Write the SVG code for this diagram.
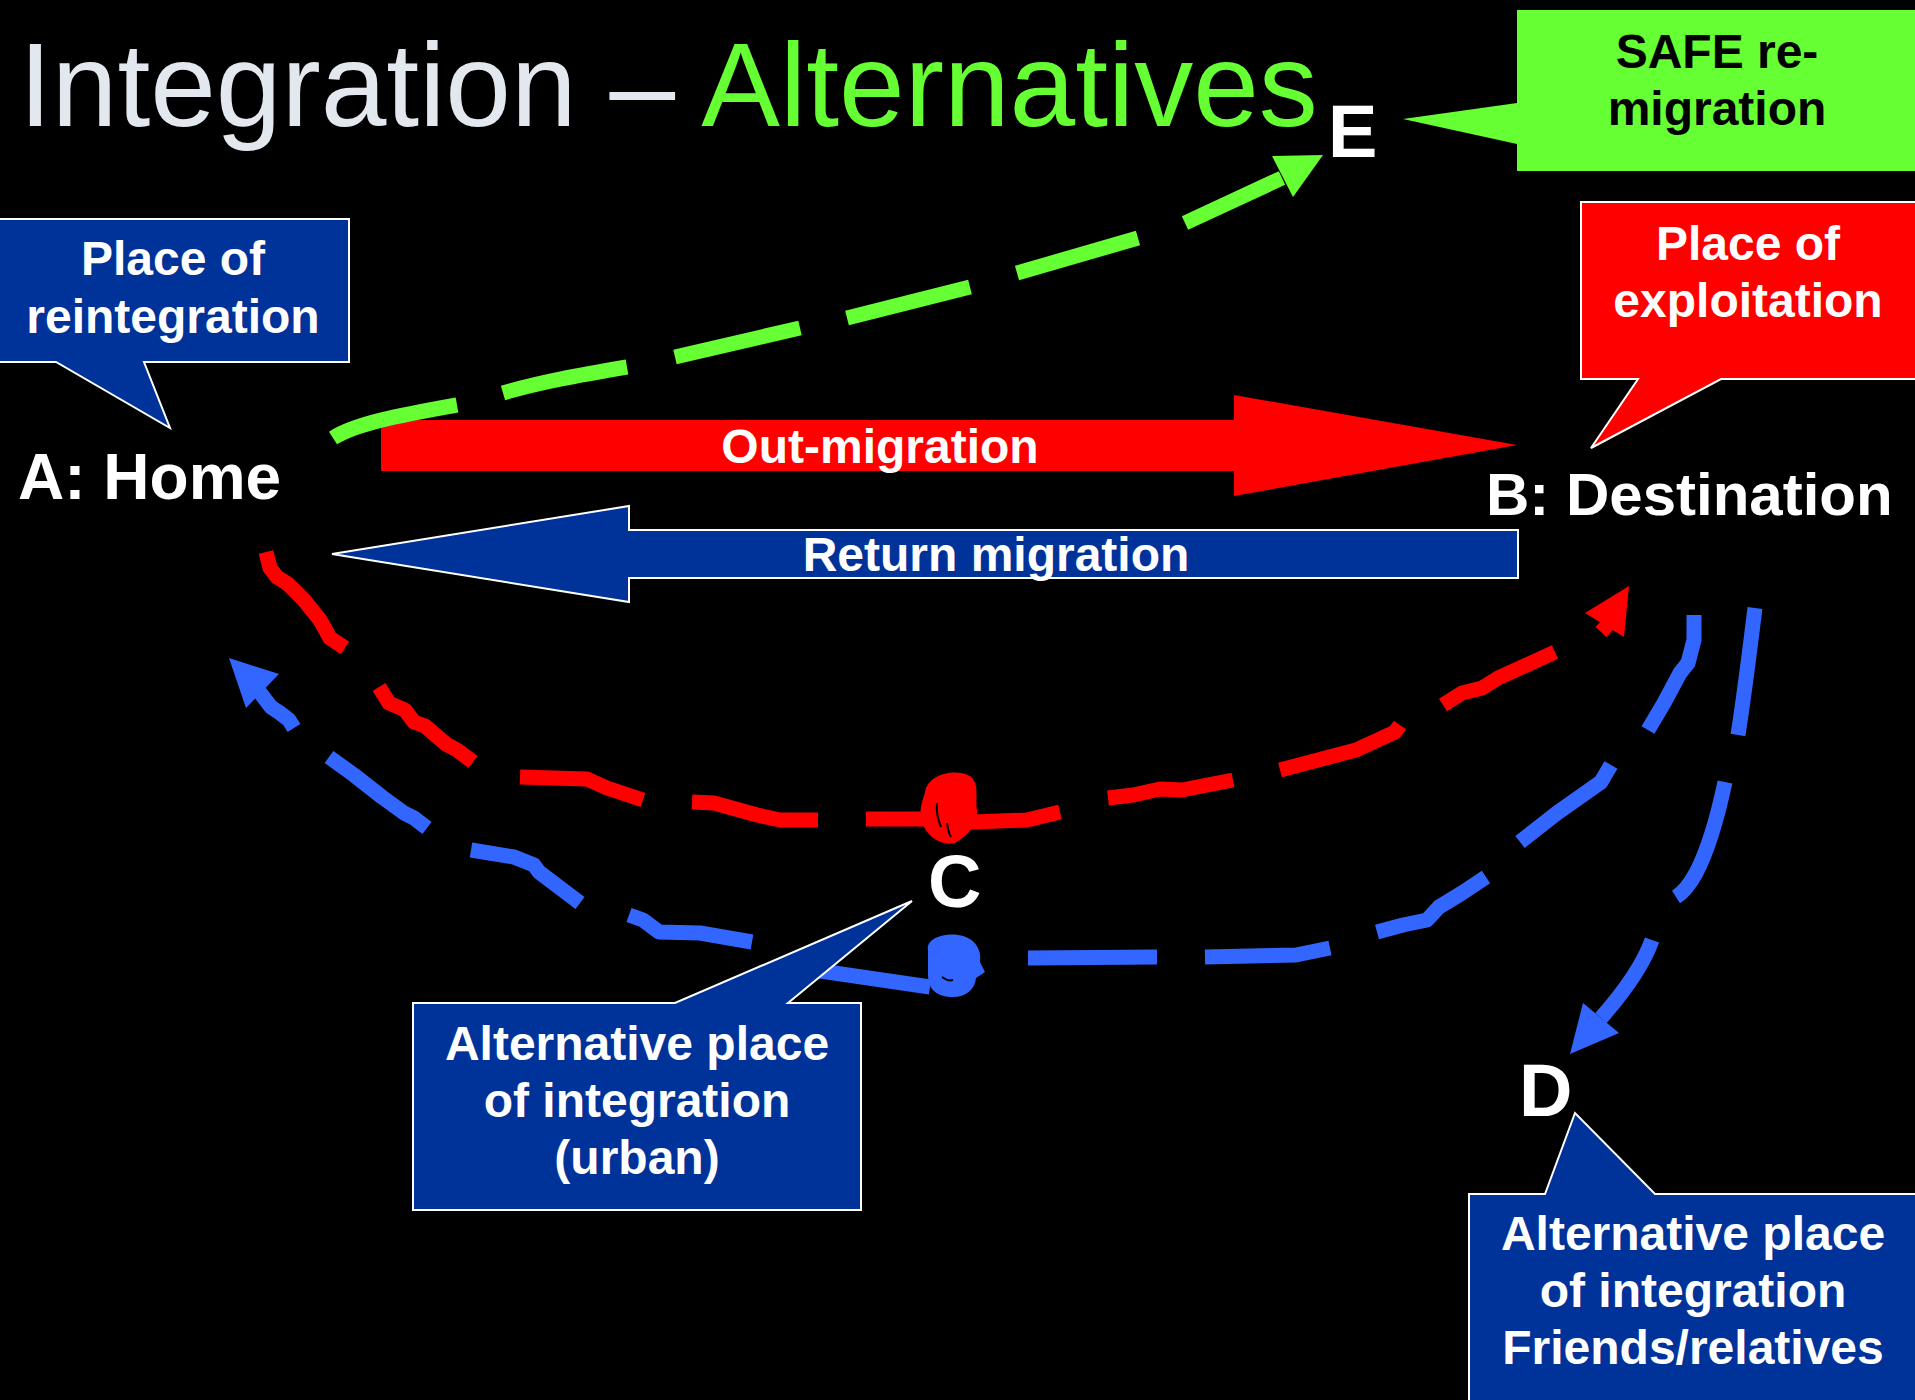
<svg xmlns="http://www.w3.org/2000/svg" width="1915" height="1400" viewBox="0 0 1915 1400">
<defs>
<style>
.bg{fill:#000}
.title{font-family:"Liberation Sans",Arial,sans-serif;font-size:118px;fill:#E3E8EE}
.lbl{font-family:"Liberation Sans",Arial,sans-serif;font-weight:bold;font-size:48px;fill:#fff;text-anchor:middle}
.dark{fill:#000}
.big{font-family:"Liberation Sans",Arial,sans-serif;font-weight:bold;font-size:64px;fill:#fff}
.bigB{font-size:60px}
.letter{font-family:"Liberation Sans",Arial,sans-serif;font-weight:bold;font-size:74px;fill:#fff}
.blueBox{fill:#003399;stroke:#fff;stroke-width:2}
.redBox{fill:#FF0000;stroke:#fff;stroke-width:2}
.greenBox{fill:#66FF33}
.dash{fill:none;stroke-width:15;stroke-linejoin:round;stroke-linecap:butt}
.g{stroke:#66FF33}
.r{stroke:#FF0000}
.b{stroke:#3366FF}
.tex{fill:none;stroke:#000;stroke-width:2}
</style>
</defs>
<rect class="bg" x="0" y="0" width="1915" height="1400"/>

<text class="title" x="19" y="126">Integration – <tspan fill="#66FF33">Alternatives</tspan></text>

<g id="connectors">
  <g id="out-migration">
    <polygon points="381,420 1234,420 1234,395 1517,445 1234,496 1234,471 381,471" fill="#FF0000"/>
    <text class="lbl" x="880" y="463">Out-migration</text>
  </g>
  <g id="return-migration">
    <polygon class="blueBox" points="1518,530 629,530 629,506 332,554 629,602 629,578 1518,578"/>
    <text class="lbl" x="996" y="571">Return migration</text>
  </g>
  <g id="a-to-e">
    <path class="dash g" d="M333,438 C355,424 395,416 457,405 M503,393 C540,382 580,375 627,367 M675,357 L800,328 M847,318 L970,287 M1017,273 L1138,238 M1185,223 L1282,178"/>
    <polygon points="1272,156 1323,155 1293,197" fill="#66FF33"/>
  </g>
  <g id="a-to-c-to-b">
    <path class="dash r" d="M266,552 L270,568 L277,577 L288,584 L304,600 L320,620 L330,638 L345,648 M379,687 L389,703 L405,710 L414,722 L425,726 L446,744 L457,750 L473,762 M520,777 L587,779 L607,788 L643,800 M692,802 L714,803 L757,815 L780,820 L818,820 M866,819 L930,819 M960,820 L973,822 L1027,820 L1060,812 M1108,798 L1133,795 L1160,789 L1182,790 L1233,780 M1280,770 L1356,750 L1395,732 L1400,725 M1443,705 L1462,693 L1482,688 L1498,678 L1555,652 M1601,632 L1614,618"/>
    <path d="M925,792 C928,774 955,768 970,776 C980,784 975,798 977,810 C979,826 966,836 955,843 C940,846 925,836 921,818 C919,808 923,800 925,792 Z" fill="#FF0000"/>
    <path class="tex" d="M937,803 C936,812 938,820 941,827 M947,823 C948,830 949,834 951,837"/>
    <polygon points="1585,613 1629,586 1624,637" fill="#FF0000"/>
  </g>
  <g id="b-to-c-to-a">
    <path class="dash b" d="M1694,615 L1694,640 L1688,663 L1680,673 L1664,703 L1648,730 M1611,765 L1605,775 L1601,782 L1557,813 L1520,842 M1486,877 L1462,893 L1439,907 L1427,920 L1403,925 L1377,932 M1330,948 L1296,955 L1205,957 M1157,957 L1028,958 M800,968 L930,987 M629,915 L643,920 L659,932 L700,933 L752,942 M471,850 L514,857 L534,865 L539,872 L580,903 M329,757 L354,775 L382,797 L404,813 L414,818 L427,828 M294,728 L289,720 L280,713 L271,707 L258,690"/>
    <path d="M928,950 C926,938 945,933 958,935 C975,937 982,950 980,962 L985,972 L976,978 C975,990 965,998 950,997 C935,996 928,988 928,975 Z" fill="#3366FF"/>
    <path class="tex" d="M942,977 C946,980 950,981 953,980"/>
    <polygon points="229,658 279,674 246,708" fill="#3366FF"/>
  </g>
  <g id="b-to-d">
    <path class="dash b" d="M1755,608 C1751,640 1745,690 1738,735 M1725,782 C1718,815 1708,850 1696,873 C1690,884 1684,892 1676,897 M1652,940 C1645,960 1630,985 1601,1018"/>
    <polygon points="1583,1003 1619,1033 1570,1054" fill="#3366FF"/>
  </g>
</g>

<g id="node-a">
  <path class="blueBox" d="M-3,219 H349 V362 H144 L170,428 L56,362 H-3 Z"/>
  <text class="lbl" x="173" y="275">Place of</text>
  <text class="lbl" x="173" y="333">reintegration</text>
  <text class="big" x="18" y="499">A: Home</text>
</g>

<g id="node-b">
  <path class="redBox" d="M1581,202 H1918 V379 H1721 L1591,448 L1638,379 H1581 Z"/>
  <text class="lbl" x="1748" y="260">Place of</text>
  <text class="lbl" x="1748" y="317">exploitation</text>
  <text class="big bigB" x="1486" y="515">B: Destination</text>
</g>

<g id="node-e">
  <path class="greenBox" d="M1517,10 H1918 V171 H1517 V144 L1403,119 L1517,103 Z"/>
  <text class="lbl dark" x="1717" y="68">SAFE re-</text>
  <text class="lbl dark" x="1717" y="125">migration</text>
  <text class="letter" x="1328" y="157">E</text>
</g>

<g id="node-c">
  <path class="blueBox" d="M413,1003 H675 L912,901 L788,1003 H861 V1210 H413 Z"/>
  <text class="lbl" x="637" y="1060">Alternative place</text>
  <text class="lbl" x="637" y="1117">of integration</text>
  <text class="lbl" x="637" y="1174">(urban)</text>
  <text class="letter" x="928" y="907">C</text>
</g>

<g id="node-d">
  <path class="blueBox" d="M1469,1194 H1545 L1575,1113 L1655,1194 H1918 V1403 H1469 Z"/>
  <text class="lbl" x="1693" y="1250">Alternative place</text>
  <text class="lbl" x="1693" y="1307">of integration</text>
  <text class="lbl" x="1693" y="1364">Friends/relatives</text>
  <text class="letter" x="1519" y="1116">D</text>
</g>
</svg>
